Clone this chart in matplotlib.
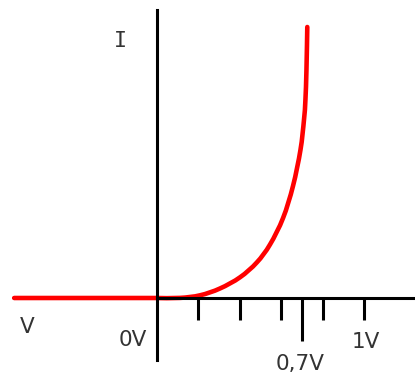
import matplotlib
matplotlib.use("Agg")
import matplotlib.pyplot as plt
from matplotlib.path import Path
from matplotlib.patches import PathPatch

# Diode I-V characteristic (V in volts, I in arbitrary units)
reverse_v = [-0.69, 0.0]
reverse_i = [0.0, 0.0]
forward_v = [0.0, 0.111, 0.208, 0.304, 0.401, 0.482, 0.546, 0.609, 0.657,
             0.693, 0.710, 0.717, 0.722, 0.726]
forward_i = [0.0, 0.01, 0.27, 0.95, 2.07, 3.55, 5.35, 8.0, 11.2,
             14.8, 17.8, 19.8, 22.8, 27.1]

short_ticks = [0.2, 0.4, 0.6, 0.8, 1.0]
long_ticks = [0.7]

labels = ["V", "0V", "0,7V", "1V", "I"]
label_pos = [(-0.628, -2.9), (-0.116, -4.2), (0.691, -6.6), (1.01, -4.4), (-0.179, 25.7)]

fig = plt.figure(figsize=(4.15, 3.78), dpi=100)
ax = fig.add_axes([0, 0, 1, 1])
ax.set_xlim(-157 / 207, 258 / 207)
ax.set_ylim(-8.0, 29.8)

# build a smooth path through the read points (Catmull-Rom -> cubic Bezier)
pts = list(zip(forward_v, forward_i))
verts = [(reverse_v[0], reverse_i[0]), (reverse_v[1], reverse_i[1])]
codes = [Path.MOVETO, Path.LINETO]
n = len(pts)
for k in range(n - 1):
    p0 = pts[k - 1] if k > 0 else pts[k]
    p1 = pts[k]
    p2 = pts[k + 1]
    p3 = pts[k + 2] if k + 2 < n else pts[k + 1]
    c1 = (p1[0] + (p2[0] - p0[0]) / 6, p1[1] + (p2[1] - p0[1]) / 6)
    c2 = (p2[0] - (p3[0] - p1[0]) / 6, p2[1] - (p3[1] - p1[1]) / 6)
    verts += [c1, c2, p2]
    codes += [Path.CURVE4] * 3
curve = PathPatch(Path(verts, codes), fill=False, edgecolor="#ff0000", lw=3.3,
                  capstyle="round", joinstyle="round", zorder=2)
ax.add_patch(curve)

for s in ("top", "right"):
    ax.spines[s].set_visible(False)
ax.spines["left"].set_position(("data", 0))
ax.spines["bottom"].set_position(("data", 0))
ax.spines["left"].set_bounds(-6.2, 28.8)
ax.spines["bottom"].set_bounds(0, 1.3)
for s in ("left", "bottom"):
    ax.spines[s].set_linewidth(2.2)
    ax.spines[s].set_color("black")
    ax.spines[s].set_zorder(2.5)

ax.set_yticks([])
ax.set_xticks(short_ticks)
ax.set_xticks(long_ticks, minor=True)
ax.tick_params(axis="x", which="major", direction="out", length=15.8, width=2.2,
               color="black", labelbottom=False)
ax.tick_params(axis="x", which="minor", direction="out", length=31, width=2.2,
               color="black", labelbottom=False)

for txt, (x, y) in zip(labels, label_pos):
    fam = "DejaVu Sans Mono" if txt == "I" else "DejaVu Sans"
    ax.text(x, y, txt, ha="center", va="center", fontsize=15.5, color="#333333",
            family=fam)

fig.savefig("out.png", dpi=100)
